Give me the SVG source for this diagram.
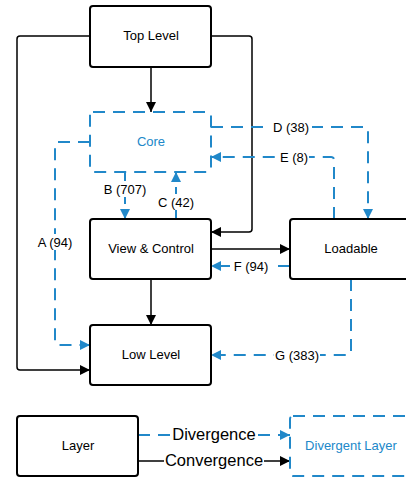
<svg xmlns="http://www.w3.org/2000/svg" width="406" height="478" viewBox="0 0 406 478">
<style>
.box{fill:#fff;stroke:#000;stroke-width:2}
.dbox{fill:#fff;stroke:#2188c9;stroke-width:2;stroke-dasharray:12 8}
.t{font-family:"Liberation Sans",Arial,sans-serif;font-size:13px;fill:#000;text-anchor:middle;dominant-baseline:central}
.tb{fill:#2188c9}
.lg{font-size:16.5px}
.s{fill:none;stroke:#000;stroke-width:1.5}
.d{fill:none;stroke:#2188c9;stroke-width:2;stroke-dasharray:12 8}
.lb{fill:#fff}
</style>
<defs>
<marker id="ak" viewBox="0 0 10 10" refX="10" refY="5" markerWidth="10" markerHeight="10" markerUnits="userSpaceOnUse" orient="auto"><path d="M0,0 L10,5 L0,10 Z" fill="#000"/></marker>
<marker id="ab" viewBox="0 0 10 10" refX="10" refY="5" markerWidth="10" markerHeight="10" markerUnits="userSpaceOnUse" orient="auto"><path d="M0,0 L10,5 L0,10 Z" fill="#2188c9"/></marker>
</defs>
<g id="connectors">
<path class="s" d="M151,67 V112" marker-end="url(#ak)"/>
<path class="s" d="M90,36 H20 Q17,36 17,39 V367 Q17,370 20,370 H90" marker-end="url(#ak)"/>
<path class="s" d="M211,36 H249 Q252,36 252,39 V229 Q252,232 249,232 H211" marker-end="url(#ak)"/>
<path class="s" d="M211,249 H290" marker-end="url(#ak)"/>
<path class="s" d="M151,279 V325" marker-end="url(#ak)"/>
<path class="d" d="M211,127 H365 Q368,127 368,130 V219" marker-end="url(#ab)"/>
<path class="d" d="M334,219 V160 Q334,157 331,157 H211" marker-end="url(#ab)"/>
<path class="d" d="M90,142 H58 Q55,142 55,145 V342 Q55,345 58,345 H90" marker-end="url(#ab)"/>
<path class="d" d="M125,172 V219" marker-end="url(#ab)"/>
<path class="d" d="M176,219 V172" marker-end="url(#ab)"/>
<path class="d" d="M290,266 H211" marker-end="url(#ab)"/>
<path class="d" d="M351,279 V352 Q351,355 348,355 H211" marker-end="url(#ab)"/>
<path class="d" d="M138,435 H290" marker-end="url(#ab)"/>
<path class="s" d="M138,461 H290" marker-end="url(#ak)"/>
<g>
<rect class="lb" x="270" y="119" width="42" height="16"/><text class="t" x="291" y="127">D (38)</text>
<rect class="lb" x="279" y="149" width="30" height="16"/><text class="t" x="294" y="157">E (8)</text>
<rect class="lb" x="35" y="234" width="40" height="16"/><text class="t" x="55" y="242">A (94)</text>
<rect class="lb" x="102" y="181" width="46" height="16"/><text class="t" x="125" y="189">B (707)</text>
<rect class="lb" x="157" y="194" width="38" height="16"/><text class="t" x="176" y="202">C (42)</text>
<rect class="lb" x="232" y="258" width="38" height="16"/><text class="t" x="251" y="266">F (94)</text>
<rect class="lb" x="274" y="347" width="46" height="16"/><text class="t" x="297" y="355">G (383)</text>
<rect class="lb" x="170" y="425" width="88" height="20"/><text class="t lg" x="214" y="434">Divergence</text>
<rect class="lb" x="164" y="451" width="100" height="20"/><text class="t lg" x="214" y="460">Convergence</text>
</g>
</g>
<g id="top-level"><rect class="box" x="90" y="6" width="121" height="61" rx="3"/><text class="t" x="151" y="35">Top Level</text></g>
<g id="core"><rect class="dbox" x="90" y="112" width="121" height="60" rx="3"/><text class="t tb" x="151" y="141">Core</text></g>
<g id="view-control"><rect class="box" x="90" y="219" width="121" height="60" rx="3"/><text class="t" x="151" y="248">View &amp; Control</text></g>
<g id="loadable"><rect class="box" x="290" y="219" width="130" height="60" rx="3"/><text class="t" x="351" y="248">Loadable</text></g>
<g id="low-level"><rect class="box" x="90" y="325" width="121" height="60" rx="3"/><text class="t" x="151" y="354">Low Level</text></g>
<g id="layer"><rect class="box" x="17" y="416" width="121" height="60" rx="3"/><text class="t" x="78" y="445">Layer</text></g>
<g id="divergent-layer"><rect class="dbox" x="290" y="416" width="130" height="60" rx="3"/><text class="t tb" x="351" y="445">Divergent Layer</text></g>
</svg>
